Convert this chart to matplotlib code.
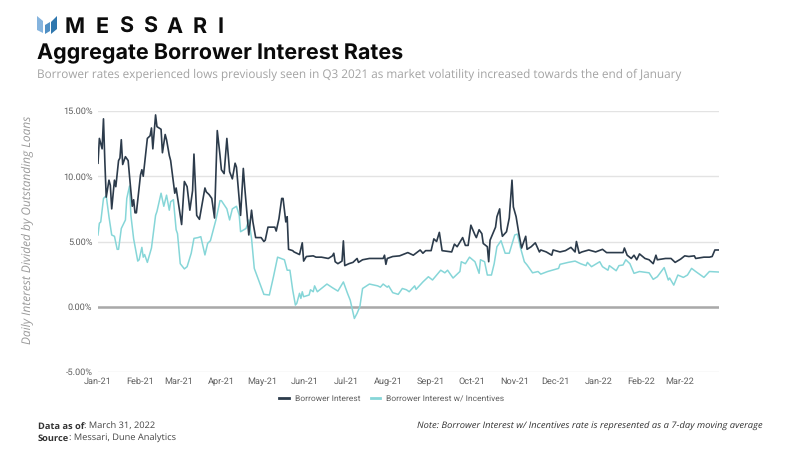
import matplotlib
matplotlib.use('Agg')
import matplotlib.pyplot as plt
from matplotlib.patches import Polygon
import pandas as pd

plt.rcParams['text.hinting'] = 'no_hinting'

# day offsets from Jan 1 2021, values in percent
borrower_days = [
    0, 1, 2, 3, 4, 5, 6, 8, 9, 10, 12, 13, 15, 16, 17, 18, 20, 22, 23, 25, 26, 27, 28, 31, 32, 33, 36, 38, 39, 40,
    42, 43, 46, 47, 49, 50, 52, 53, 56, 57, 61, 63, 65, 67, 69, 70, 72, 74, 78, 79, 81, 83, 85, 87, 89, 90, 92, 94,
    96, 98, 100, 101, 104, 106, 107, 110, 112, 113, 115, 119, 121, 122, 124, 129, 130, 132, 134, 135, 137, 138,
    139, 142, 143, 147, 149, 150, 152, 157, 159, 163, 168, 171, 172, 173, 175, 178, 179, 180, 183, 186, 189, 190,
    193, 198, 203, 208, 209, 210, 211, 215, 220, 226, 230, 235, 237, 239, 243, 245, 247, 249, 251, 258, 260, 262,
    266, 268, 270, 272, 275, 276, 278, 280, 281, 284, 285, 286, 290, 291, 293, 294, 295, 298, 300, 302, 303, 305,
    307, 309, 312, 313, 316, 319, 322, 323, 327, 331, 332, 337, 341, 345, 348, 349, 351, 353, 358, 363, 368, 371,
    378, 383, 384, 386, 389, 391, 393, 395, 399, 402, 405, 407, 408, 414, 418, 421, 425, 428, 431, 435, 436, 442,
    446, 448, 450, 453,
]
borrower_rate = [
    11.0, 12.9, 12.5, 12.1, 14.4, 11.1, 8.4, 9.7, 9.3, 7.5, 9.7, 9.2, 11.2, 11.4, 12.8, 10.9, 11.5, 11.2, 10.0, 7.7,
    8.2, 7.2, 7.2, 10.1, 10.5, 10.0, 12.9, 13.1, 13.7, 12.1, 14.7, 13.8, 13.6, 11.8, 13.2, 12.8, 11.6, 11.2, 8.7,
    9.1, 6.3, 9.6, 9.2, 7.4, 8.9, 11.7, 7.0, 6.7, 9.1, 8.8, 8.6, 8.3, 6.8, 13.5, 11.6, 10.5, 10.2, 12.9, 10.35, 9.8,
    11.0, 10.7, 7.0, 10.6, 9.2, 5.5, 7.4, 6.5, 5.3, 5.3, 5.0, 5.1, 6.1, 6.1, 5.8, 6.75, 8.3, 8.3, 6.5, 6.9,
    4.4, 4.3, 4.2, 4.0, 4.9, 3.5, 3.85, 3.9, 3.8, 3.8, 3.7, 3.9, 4.1, 3.45, 3.3, 3.5, 5.05, 3.15, 3.3, 3.4, 3.7, 3.4,
    3.6, 3.7, 3.7, 3.7, 3.95, 3.25, 3.7, 3.85, 3.9, 4.15, 3.95, 4.35, 4.1, 4.3, 4.3, 5.2, 5.0, 5.7, 4.3, 4.2, 4.8,
    4.6, 5.3, 4.7, 4.7, 6.25, 5.5, 5.3, 5.9, 5.6, 4.85, 4.6, 3.45, 5.1, 6.1, 6.9, 7.5, 6.0, 5.4, 5.75, 6.8, 9.7,
    7.65, 6.9, 5.6, 4.5, 5.4, 4.4, 4.6, 4.9, 4.2, 4.35, 4.2, 3.95, 4.35, 4.2, 4.3, 4.55, 4.2, 5.0, 4.1, 4.2, 4.35,
    4.2, 4.4, 4.15, 4.15, 4.15, 4.5, 3.95, 3.7, 3.95, 3.6, 4.05, 3.7, 3.6, 3.3, 3.95, 3.6, 3.7, 3.7, 3.4, 3.65, 3.9,
    3.85, 3.9, 3.7, 3.8, 3.8, 3.85, 4.35, 4.35,
]

incentive_days = [
    0, 1, 2, 4, 6, 8, 10, 12, 14, 15, 17, 20, 21, 23, 24, 26, 29, 30, 32, 33, 34, 36, 39, 42, 43, 46, 48, 50, 52, 53,
    55, 57, 58, 60, 63, 65, 68, 70, 73, 75, 78, 80, 82, 86, 89, 90, 94, 96, 98, 101, 103, 104, 106, 108, 110, 112,
    114, 118, 121, 125, 128, 131, 136, 138, 140, 142, 144, 145, 147, 148, 149, 150, 154, 155, 157, 158, 160, 163,
    167, 171, 175, 179, 182, 184, 187, 189, 191, 193, 198, 204, 206, 208, 211, 212, 215, 219, 222, 225, 227, 231,
    232, 237, 241, 244, 250, 253, 255, 259, 264, 265, 268, 271, 275, 278, 279, 282, 284, 287, 289, 291, 294, 297,
    300, 304, 306, 308, 311, 313, 317, 321, 323, 328, 336, 337, 343, 348, 352, 356, 357, 360, 366, 368, 372, 373,
    378, 380, 383, 385, 388, 391, 395, 402, 405, 408, 413, 416, 417, 420, 423, 427, 430, 433, 436, 442, 446, 453,
]
incentive_rate = [
    5.5, 6.4, 6.5, 8.3, 8.5, 6.9, 5.5, 5.4, 4.4, 4.4, 6.0, 6.65, 8.3, 9.25, 7.0, 5.2, 3.5, 3.6, 4.55, 3.8, 4.0, 3.4,
    4.5, 7.0, 7.3, 8.7, 7.7, 8.55, 7.4, 8.05, 8.2, 5.9, 5.6, 3.3, 2.9, 3.07, 4.1, 5.24, 5.3, 5.37, 3.97, 4.86, 5.06,
    6.65, 8.13, 8.13, 7.5, 6.65, 7.5, 7.7, 7.03, 5.75, 5.88, 6.0, 6.65, 5.24, 2.94, 1.8, 0.95, 0.9, 2.3, 3.8, 3.6,
    2.8, 2.8, 1.3, 0.13, 0.26, 1.03, 0.64, 1.15, 0.77, 0.9, 1.3, 1.15, 1.6, 1.15, 1.4, 1.74, 1.46, 1.2, 1.9, 1.03,
    0.5, -0.9, -0.5, 0.0, 1.4, 1.74, 1.6, 1.5, 1.74, 1.5, 1.6, 1.08, 0.95, 1.4, 1.3, 1.15, 1.6, 1.33, 1.9, 2.3, 2.05,
    2.8, 2.6, 2.8, 2.2, 2.7, 3.45, 3.3, 3.8, 3.45, 2.56, 3.6, 3.45, 2.43, 2.43, 3.3, 4.6, 5.06, 4.1, 4.1, 5.5, 5.57,
    4.6, 3.45, 3.2, 2.6, 2.7, 2.5, 2.7, 2.94, 3.25, 3.4, 3.5, 3.3, 3.15, 3.4, 3.07, 3.45, 3.07, 2.8, 3.15, 2.76, 3.15,
    3.2, 3.6, 3.3, 2.56, 2.7, 2.6, 2.1, 2.3, 3.0, 2.05, 2.2, 1.66, 2.43, 2.25, 2.43, 2.94, 2.7, 2.25, 2.7, 2.66,
]

month_labels = ['Jan-21', 'Feb-21', 'Mar-21', 'Apr-21', 'May-21', 'Jun-21', 'Jul-21', 'Aug-21',
                'Sep-21', 'Oct-21', 'Nov-21', 'Dec-21', 'Jan-22', 'Feb-22', 'Mar-22']
y_ticks = [-5, 0, 5, 10, 15]

logo_letters = ['M', 'E', 'S', 'S', 'A', 'R', 'I']
logo_letter_x = [75, 102, 126.5, 150, 174.5, 200, 221]

W, H = 800, 450
DARK = '#2c3b4b'
TEAL = '#86d6d8'


def fy(py):
    return 1 - py / H


start = pd.Timestamp('2021-01-01')
borrower_dates = start + pd.to_timedelta(borrower_days, unit='D')
incentive_dates = start + pd.to_timedelta(incentive_days, unit='D')
month_ticks = pd.date_range('2021-01-01', periods=len(month_labels), freq='MS')

fig = plt.figure(figsize=(8, 4.5), dpi=100)
ax = fig.add_axes([98 / W, 1 - 372 / H, (719 - 98) / W, (372 - 111) / H])

ax.plot(incentive_dates, incentive_rate, color=TEAL, lw=1.1, label='Borrower Interest w/ Incentives', zorder=3)
ax.plot(borrower_dates, borrower_rate, color=DARK, lw=1.2, label='Borrower Interest', zorder=4)
ax.axhline(0, color='#a9a9a9', lw=1.8, zorder=2)

ax.set_xlim(start, start + pd.Timedelta(days=453))
ax.set_ylim(-5, 15)
ax.set_yticks(y_ticks)
ax.set_yticklabels(['%.2f%%' % v for v in y_ticks])
ax.set_xticks(month_ticks)
ax.set_xticklabels(month_labels)
ax.tick_params(length=0, labelsize=6.6, labelcolor='#5f5f5f', pad=4)
for lab in ax.get_xticklabels() + ax.get_yticklabels():
    lab.set_family('Roboto')
ax.grid(axis='y', color='#e3e3e3', lw=1)
ax.set_axisbelow(True)
for s in ax.spines.values():
    s.set_visible(False)

handles, labels = ax.get_legend_handles_labels()
leg = fig.legend(handles[::-1], labels[::-1], loc='center', bbox_to_anchor=(392 / W, fy(399)), ncol=2, frameon=False,
                 handlelength=1.1, columnspacing=1.3, handletextpad=0.7, labelcolor='#5f5f5f',
                 prop={'family': 'Roboto', 'size': 6.1})
for line in leg.get_lines():
    line.set_linewidth(2)

# header
logo_ax = fig.add_axes([0, 0, 1, 1])
logo_ax.set_xlim(0, W)
logo_ax.set_ylim(H, 0)
logo_ax.axis('off')
logo_ax.patch.set_alpha(0)
logo_ax.add_patch(Polygon([(37, 16), (43, 21), (43, 33), (37, 30)], color='#85b4de', lw=0))
logo_ax.add_patch(Polygon([(45, 25), (50, 22), (50, 31), (45, 34)], color='#4f8fc4', lw=0))
logo_ax.add_patch(Polygon([(51, 22), (57, 16), (57, 29), (51, 34)], color='#2f77ae', lw=0))
for letter, x in zip(logo_letters, logo_letter_x):
    logo_ax.text(x, 25, letter, ha='center', va='center_baseline', fontsize=15.5, fontweight='bold',
                 family='Inter', color='#0c0c0c')

fig.text(37 / W, fy(59), 'Aggregate Borrower Interest Rates', fontsize=15.5, fontweight='bold', family='Inter',
         color='#0a0a0a')
fig.text(37 / W, fy(78), 'Borrower rates experienced lows previously seen in Q3 2021 as market volatility '
         'increased towards the end of January', fontsize=8.44, family='Open Sans', color='#a3a3a3')

fig.text(28 / W, fy(230), 'Daily Interest Divided by Outstanding Loans', rotation=90, ha='center', va='center',
         fontsize=8.6, style='italic', family='Open Sans', color='#999999')

# footer
for py, head, rest in [(429, 'Data as of', ': March 31, 2022'), (441, 'Source', ': Messari, Dune Analytics')]:
    t = fig.text(38 / W, fy(py), head, fontsize=6.7, fontweight='bold', family='Open Sans', color='#333333')
    logo_ax.annotate(rest, xy=(1, 0), xycoords=t, va='bottom', fontsize=6.7, family='Open Sans', color='#444444')

fig.text(763 / W, fy(429), 'Note: Borrower Interest w/ Incentives rate is represented as a 7-day moving average',
         ha='right', fontsize=6.74, style='italic', family='Open Sans', color='#333333')

fig.savefig('out.png', dpi=100)
